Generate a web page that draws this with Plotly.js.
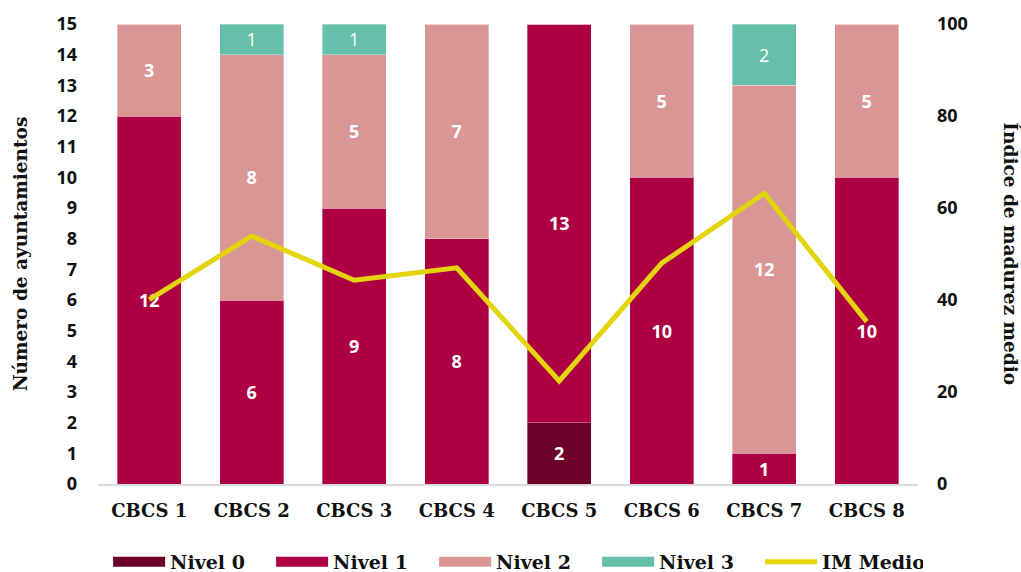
<!DOCTYPE html>
<html>
<head>
<meta charset="utf-8">
<script src="https://cdn.plot.ly/plotly-3.0.1.min.js"></script>
<style>
  html, body { margin: 0; padding: 0; background: #ffffff; }
  #chart { width: 1021px; height: 572px; }
</style>
</head>
<body>
<div id="chart"></div>
<script>
// Centros (CBCS) y número de ayuntamientos por nivel de madurez
const categories = ["CBCS 1", "CBCS 2", "CBCS 3", "CBCS 4", "CBCS 5", "CBCS 6", "CBCS 7", "CBCS 8"];
const nivel0 = [0, 0, 0, 0, 2, 0, 0, 0];
const nivel1 = [12, 6, 9, 8, 13, 10, 1, 10];
const nivel2 = [3, 8, 5, 7, 0, 5, 12, 5];
const nivel3 = [0, 1, 1, 0, 0, 0, 2, 0];
// Índice de madurez medio por centro
const imMedio = [40.1, 53.9, 44.3, 47.0, 22.4, 48.0, 63.2, 35.3];
const leftTicks = [0, 1, 2, 3, 4, 5, 6, 7, 8, 9, 10, 11, 12, 13, 14, 15];
const rightTicks = [0, 20, 40, 60, 80, 100];

const SLAB = "DejaVu Serif, serif";
const SANS = "Open Sans, Noto Sans, sans-serif";
const colors = { n0: "#6C0028", n1: "#AC0042", n2: "#D99694", n3: "#66C0A9", im: "#E4D40B" };

function labels(vals) { return vals.map(v => (v ? String(v) : "")); }

function barTrace(name, vals, color, weight) {
  return {
    type: "bar", name: name, x: categories, y: vals,
    marker: { color: color, line: { color: "rgba(255,255,255,0.35)", width: 1 } },
    text: labels(vals), textposition: "inside", insidetextanchor: "middle",
    textangle: 0, constraintext: "none",
    insidetextfont: { family: SANS, size: 18, color: "#ffffff", weight: weight },
    showlegend: false, hoverinfo: "skip"
  };
}

// Legend entries drawn as wide swatches
function legendEntry(name, color, width) {
  return {
    type: "scatter", mode: "lines", name: name, x: [null], y: [null],
    line: { color: color, width: width }, hoverinfo: "skip", showlegend: true
  };
}

const traces = [
  barTrace("Nivel 0", nivel0, colors.n0, 700),
  barTrace("Nivel 1", nivel1, colors.n1, 700),
  barTrace("Nivel 2", nivel2, colors.n2, 700),
  barTrace("Nivel 3", nivel3, colors.n3, 400),
  {
    type: "scatter", mode: "lines", name: "IM Medio", x: categories, y: imMedio,
    yaxis: "y2", line: { color: colors.im, width: 5 }, showlegend: false, hoverinfo: "skip"
  },
  legendEntry("Nivel 0", colors.n0, 12),
  legendEntry("Nivel 1", colors.n1, 12),
  legendEntry("Nivel 2", colors.n2, 12),
  legendEntry("Nivel 3", colors.n3, 12),
  legendEntry("IM Medio", colors.im, 5)
];

const layout = {
  width: 1021, height: 572,
  margin: { l: 98, r: 103, t: 24, b: 88 },
  paper_bgcolor: "#ffffff", plot_bgcolor: "#ffffff",
  barmode: "stack", bargap: 0.375,
  hovermode: false,
  xaxis: {
    type: "category", showgrid: false, zeroline: false,
    showline: true, linecolor: "#d9d9d9", linewidth: 2,
    ticks: "", tickfont: { family: SLAB, size: 18, color: "#111111", weight: 700 },
    ticklabelstandoff: 9, automargin: false
  },
  yaxis: {
    range: [0, 15], tickvals: leftTicks, ticktext: leftTicks.map(String),
    showgrid: false, zeroline: false, showline: false, ticks: "",
    tickfont: { family: SANS, size: 18, color: "#111111", weight: 700 },
    ticklabelstandoff: 20, automargin: false,
    title: { text: "Número de ayuntamientos", standoff: 23,
             font: { family: SLAB, size: 18.5, color: "#111111", weight: 700 } }
  },
  yaxis2: {
    overlaying: "y", side: "right", range: [0, 100],
    tickvals: rightTicks, ticktext: rightTicks.map(String),
    showgrid: false, zeroline: false, showline: false, ticks: "",
    tickfont: { family: SANS, size: 18, color: "#111111", weight: 700 },
    ticklabelstandoff: 18, automargin: false
  },
  legend: {
    orientation: "h", xref: "container", yref: "container",
    x: 0.505, xanchor: "center", y: 10 / 572, yanchor: "middle",
    font: { family: SLAB, size: 19, color: "#111111", weight: 700 },
    itemwidth: 52, entrywidth: 96, traceorder: "normal"
  },
  annotations: [{
    xref: "paper", yref: "paper", x: 1.113, y: 0.5, xanchor: "center", yanchor: "middle",
    text: "Índice de madurez medio", textangle: 90, showarrow: false,
    font: { family: SLAB, size: 18.5, color: "#111111", weight: 700 }
  }]
};

Plotly.newPlot("chart", traces, layout, { displayModeBar: false, staticPlot: true });
</script>
</body>
</html>
